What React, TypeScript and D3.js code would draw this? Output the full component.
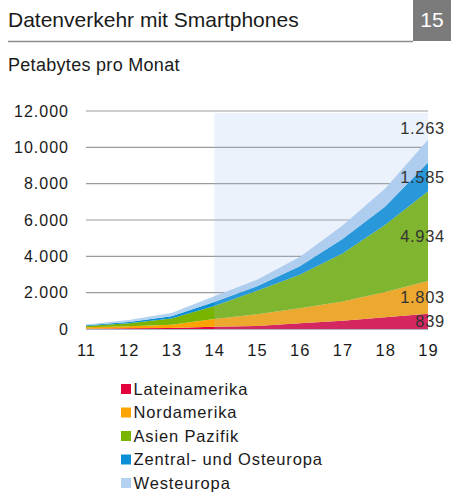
import React from 'react';
import * as d3 from 'd3';

const years = [11, 12, 13, 14, 15, 16, 17, 18, 19];
const seriesNames = ['Lateinamerika', 'Nordamerika', 'Asien Pazifik', 'Zentral- und Osteuropa', 'Westeuropa'];
const lateinamerika = [18, 37, 55, 130, 165, 310, 460, 640, 839];
const nordamerika = [75, 111, 185, 425, 645, 830, 1050, 1400, 1803];
const asienPazifik = [74, 167, 335, 705, 1300, 1850, 2640, 3700, 4934];
const zentralOsteuropa = [37, 74, 130, 220, 250, 460, 800, 1000, 1585];
const westeuropa = [45, 100, 170, 320, 350, 520, 750, 1000, 1263];
const yTicks = [0, 2000, 4000, 6000, 8000, 10000, 12000];
const forecastFrom = 14;

const colors = ['#e2003d', '#ffa300', '#78b400', '#0a8fd6', '#b3d1f0'];

const W = 451;
const H = 493;
const font = 'Liberation Sans, Arial, Helvetica, sans-serif';

const fmt = (v: number) => d3.format(',')(v).replace(/,/g, '.');

export default function App() {
  const x = d3.scaleLinear().domain([11, 19]).range([86, 428]);
  const y = d3.scaleLinear().domain([0, 12000]).range([329, 111]);

  const rows = years.map((yr, i) => ({
    year: yr,
    Lateinamerika: lateinamerika[i],
    Nordamerika: nordamerika[i],
    'Asien Pazifik': asienPazifik[i],
    'Zentral- und Osteuropa': zentralOsteuropa[i],
    Westeuropa: westeuropa[i],
  }));
  const stacked = d3.stack<any>().keys(seriesNames)(rows);

  const area = d3
    .area<any>()
    .x((d) => x(d.data.year))
    .y0((d) => y(d[0]))
    .y1((d) => y(d[1]))
    .curve(d3.curveLinear);

  const last = years.length - 1;
  // label nudges (in data units) so the top labels don't collide
  const labelNudge = [0, 0, 0, 0, 1270];

  return (
    <svg width={W} height={H} style={{ position: 'absolute', left: 0, top: 0 }} fontFamily={font}>
      <rect width={W} height={H} fill="#fff" />
      {/* header */}
      <text x={8} y={27} fontSize={21} fill="#1a1a1a">Datenverkehr mit Smartphones</text>
      <rect x={413} y={0} width={W - 413} height={41} fill="#7b7b7b" />
      <text x={432} y={27} fontSize={21} fill="#fff" textAnchor="middle">15</text>
      <line x1={8} x2={413} y1={41.5} y2={41.5} stroke="#8c8c8c" strokeWidth={1.5} />
      <text x={8} y={71} fontSize={18} letterSpacing={0.3} fill="#1a1a1a">Petabytes pro Monat</text>

      {/* grid */}
      {yTicks.map((t) => (
        <g key={t}>
          {t > 0 && <line x1={x(11)} x2={x(19)} y1={y(t)} y2={y(t)} stroke="#9b9b9b" strokeWidth={1.2} />}
          <text x={69} y={y(t)} dy="0.36em" fontSize={16} letterSpacing={1} textAnchor="end" fill="#1a1a1a">
            {fmt(t)}
          </text>
        </g>
      ))}

      {/* areas */}
      {stacked.map((s, i) => (
        <path key={s.key} d={area(s) || ''} fill={colors[i]} />
      ))}

      {/* forecast shading */}
      <rect
        x={x(forecastFrom)}
        y={y(12000) + 2}
        width={x(19) - x(forecastFrom)}
        height={y(0) - y(12000) - 1}
        fill="rgb(160,190,235)"
        opacity={0.2}
      />
      <line x1={x(11)} x2={x(19)} y1={y(0) + 0.5} y2={y(0) + 0.5} stroke="#a9b4c4" strokeWidth={1.2} />

      {/* x labels */}
      {years.map((yr) => (
        <text key={yr} x={x(yr) + 0.5} y={356} fontSize={16.5} letterSpacing={1} textAnchor="middle" fill="#1a1a1a">
          {yr}
        </text>
      ))}

      {/* end value labels */}
      {stacked.map((s, i) => {
        const d = s[last];
        const mid = (d[0] + d[1]) / 2 + labelNudge[i];
        return (
          <text key={s.key} x={445} y={y(mid)} dy="0.36em" fontSize={16.5} letterSpacing={0.7} textAnchor="end" fill="#333">
            {fmt(d[1] - d[0])}
          </text>
        );
      })}

      {/* legend */}
      {seriesNames.map((n, i) => (
        <g key={n} transform={`translate(121,${389 + i * 23.5})`}>
          <rect x={0} y={-5} width={10} height={10} fill={colors[i]} />
          <text x={12.5} y={0} dy="0.36em" fontSize={16.5} letterSpacing={0.85} fill="#1a1a1a">
            {n}
          </text>
        </g>
      ))}
    </svg>
  );
}
